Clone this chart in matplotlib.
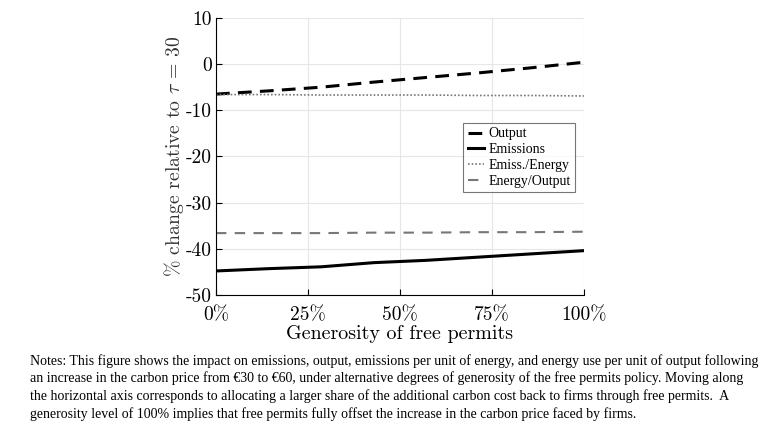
import matplotlib
matplotlib.use('Agg')
import matplotlib.pyplot as plt

# Données
generosity = [0, 14.3, 28.6, 42.9, 57.1, 71.4, 85.7, 100]
output = [-6.5, -5.8, -5.0, -3.9, -2.9, -1.9, -0.8, 0.4]
emissions = [-44.8, -44.3, -43.9, -43.0, -42.5, -41.8, -41.1, -40.4]
emiss_energy = [-6.6, -6.6, -6.7, -6.7, -6.7, -6.8, -6.8, -6.9]
energy_output = [-36.6, -36.6, -36.6, -36.5, -36.5, -36.4, -36.4, -36.3]

xticks = [0, 25, 50, 75, 100]
xticklabels = ['0%', '25%', '50%', '75%', '100%']
yticks = [-50, -40, -30, -20, -10, 0, 10]
yticklabels = ['-50', '-40', '-30', '-20', '-10', '0', '10']

notes = ("Notes: This figure shows the impact on emissions, output, emissions per unit of energy, and energy use per unit of output following\n"
         "an increase in the carbon price from \u20ac30 to \u20ac60, under alternative degrees of generosity of the free permits policy. Moving along\n"
         "the horizontal axis corresponds to allocating a larger share of the additional carbon cost back to firms through free permits.  A\n"
         "generosity level of 100% implies that free permits fully offset the increase in the carbon price faced by firms.")

plt.rcParams['mathtext.fontset'] = 'cm'
plt.rcParams['axes.unicode_minus'] = False

fig = plt.figure(figsize=(7.78, 4.37), dpi=100)
ax = fig.add_axes([0.2776, 0.325, 0.473, 0.634])

ax.plot(generosity, output, color='black', lw=2.2, ls=(0, (4.5, 2.7)), label='Output')
ax.plot(generosity, emissions, color='black', lw=2.2, ls='-', label='Emissions')
ax.plot(generosity, emiss_energy, color='#777777', lw=1.2, ls=(0, (1, 1.2)), label='Emiss./Energy')
ax.plot(generosity, energy_output, color='#777777', lw=1.5, ls=(0, (5, 4)), label='Energy/Output')

ax.set_xlim(0, 100)
ax.set_ylim(-50, 10)
ax.set_xticks(xticks)
ax.set_xticklabels(xticklabels, fontfamily='cmr10', fontsize=14)
ax.set_yticks(yticks)
ax.set_yticklabels(yticklabels, fontfamily='cmr10', fontsize=14)
ax.tick_params(direction='in', length=4, width=0.8)
ax.tick_params(axis='x', pad=8)
ax.tick_params(axis='y', pad=3)
ax.grid(True, color='#e6e6e6', lw=0.8)
ax.set_axisbelow(True)
for side in ['top', 'right']:
    ax.spines[side].set_visible(False)

ax.set_xlabel('Generosity of free permits', fontfamily='cmr10', fontsize=14.4, labelpad=1)
ax.set_ylabel(r'% change relative to $\tau$ = 30', fontfamily='cmr10', fontsize=14.2,
              color='#333333', labelpad=0)

leg = ax.legend(loc='upper right', bbox_to_anchor=(0.975, 0.62),
                prop={'family': 'Liberation Serif', 'size': 10},
                frameon=True, fancybox=False, edgecolor='#555555',
                handlelength=1.2, handletextpad=0.3, borderpad=0.3,
                labelspacing=0.2, borderaxespad=0)
leg.get_frame().set_linewidth(0.8)

fig.text(0.039, 0.190, notes, fontfamily='Liberation Serif', fontsize=10.0,
         va='top', ha='left', linespacing=1.36)

fig.savefig('out.png', dpi=100)
plt.close(fig)
